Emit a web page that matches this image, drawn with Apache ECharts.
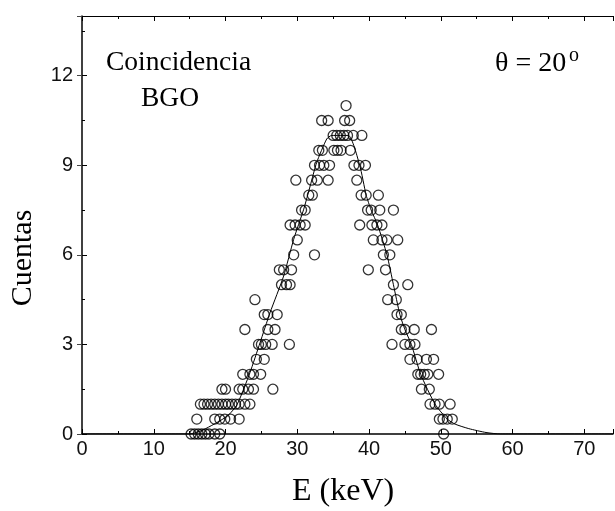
<!DOCTYPE html>
<html>
<head>
<meta charset="utf-8">
<script src="https://cdn.jsdelivr.net/npm/echarts@6/dist/echarts.min.js"></script>
<style>
html,body{margin:0;padding:0;background:#fff;}
#c{width:615px;height:511px;}
</style>
</head>
<body>
<div id="c"></div>
<script>
// ---- data ----
const xTicks = [0, 10, 20, 30, 40, 50, 60, 70];
const yTicks = [0, 3, 6, 9, 12];

// measured counts: each level with the energies (keV) of the points at that level
const countLevels = [11, 10.5, 10, 9.5, 9, 8.5, 8, 7.5, 7, 6.5, 6, 5.5, 5, 4.5, 4, 3.5, 3, 2.5, 2, 1.5, 1, 0.5, 0];
const energiesAtLevel = [
  [36.8],
  [33.4, 34.3, 36.6, 37.3],
  [35.0, 35.5, 36.0, 36.5, 37.0, 37.8, 39.0],
  [33.0, 33.5, 35.1, 35.6, 36.1, 37.4],
  [32.4, 33.1, 33.7, 34.5, 37.9, 38.6, 39.5],
  [29.8, 32.0, 32.8, 34.3, 38.3],
  [31.6, 32.1, 38.9, 39.6, 41.3],
  [30.6, 31.1, 39.8, 40.3, 41.5, 43.4],
  [29.0, 29.7, 30.4, 31.1, 38.7, 40.4, 41.1, 41.8],
  [30.0, 40.6, 41.8, 42.5, 44.0],
  [29.5, 32.4, 42.0, 42.9],
  [27.5, 28.1, 29.2, 39.9, 42.3],
  [27.8, 28.5, 29.0, 43.4, 45.4],
  [24.1, 42.6, 43.8],
  [25.4, 25.9, 27.2, 43.9, 44.5],
  [22.7, 25.9, 26.9, 44.5, 45.0, 46.3, 48.7],
  [24.6, 25.0, 25.6, 26.5, 28.9, 43.2, 45.0, 45.7, 46.4],
  [24.3, 25.4, 45.7, 46.7, 48.0, 49.0],
  [22.4, 23.4, 23.9, 24.9, 46.8, 47.2, 47.7, 48.2, 49.7],
  [19.5, 20.0, 21.9, 22.4, 23.2, 23.9, 26.6, 47.3, 48.4],
  [16.5, 17.0, 17.5, 18.0, 18.5, 19.0, 19.5, 20.0, 20.4, 20.9, 21.4, 21.9, 22.7, 23.4, 48.5, 49.2, 49.8, 51.3],
  [16.0, 18.5, 19.2, 19.9, 20.7, 21.9, 49.8, 50.3, 50.9, 51.6],
  [15.2, 15.7, 16.2, 16.7, 17.2, 17.7, 18.5, 19.2, 50.4]
];

// fitted curve, points
const fitE = [0, 15, 16.9, 20.2, 21.6, 23.4, 24.8, 26.2, 28.1, 29.5, 30.9, 31.8, 32.7, 34.1, 34.8, 37.1, 38.7, 39.6, 40.3, 41.2, 42.5, 43.4, 44.3, 45.0, 45.9, 47.2, 49.2, 50.9, 52.0, 53.9, 56.3, 58.3, 74];
const fitCounts = [0, 0, 0.14, 0.59, 0.98, 2.05, 3.05, 4.06, 5.29, 6.52, 7.53, 8.31, 9.09, 9.88, 10.0, 10.0, 9.0, 8.0, 7.5, 7.0, 6.0, 5.0, 4.0, 3.5, 3.0, 2.0, 1.0, 0.5, 0.33, 0.18, 0.05, 0, 0];

// ---- build ----
const scatterData = [];
countLevels.forEach((lv, i) => energiesAtLevel[i].forEach(e => scatterData.push([e, lv])));
const fitData = fitE.map((e, i) => [e, fitCounts[i]]);

const chart = echarts.init(document.getElementById('c'), null, {renderer: 'canvas'});
const tickFont = {fontFamily: '"Liberation Sans", Arial, sans-serif', fontSize: 20, color: '#111'};
const serif = '"Liberation Serif", "Times New Roman", serif';

const option = {
  backgroundColor: '#fff',
  animation: false,
  grid: {left: 82, right: 2, top: 16, bottom: 77, containLabel: false},
  xAxis: [{
    type: 'value', min: 0, max: 74, interval: 10, position: 'bottom',
    axisLine: {show: true, onZero: false, lineStyle: {color: '#000', width: 1.5}},
    axisTick: {show: true, inside: true, length: 5, lineStyle: {color: '#000', width: 1}},
    minorTick: {show: true, splitNumber: 2, length: 3, lineStyle: {color: '#000', width: 1}},
    axisLabel: Object.assign({margin: 5, showMaxLabel: false, formatter: v => xTicks.indexOf(v) >= 0 ? String(v) : ''}, tickFont),
    splitLine: {show: false}
  }, {
    type: 'value', min: 0, max: 74, interval: 10, position: 'top',
    axisLine: {show: true, onZero: false, lineStyle: {color: '#000', width: 1.2}},
    axisTick: {show: true, inside: true, length: 5, lineStyle: {color: '#000', width: 1}},
    minorTick: {show: true, splitNumber: 2, length: 3, lineStyle: {color: '#000', width: 1}},
    axisLabel: {show: false},
    splitLine: {show: false}
  }],
  yAxis: [{
    type: 'value', min: 0, max: 14, interval: 3, position: 'left',
    axisLine: {show: true, onZero: false, lineStyle: {color: '#000', width: 1.5}},
    axisTick: {show: true, inside: true, length: 5, lineStyle: {color: '#000', width: 1}},
    minorTick: {show: true, splitNumber: 2, length: 3, lineStyle: {color: '#000', width: 1}},
    axisLabel: Object.assign({margin: 9, showMaxLabel: false, formatter: v => yTicks.indexOf(v) >= 0 ? String(v) : ''}, tickFont),
    splitLine: {show: false}
  }, {
    type: 'value', min: 0, max: 14, interval: 3, position: 'right',
    axisLine: {show: false},
    axisTick: {show: true, inside: true, length: 5, lineStyle: {color: '#444', width: 1}},
    axisLabel: {show: false},
    splitLine: {show: false}
  }],
  series: [{
    type: 'line', data: fitData, xAxisIndex: 0, yAxisIndex: 0,
    showSymbol: false, symbol: 'none', smooth: 0.2,
    lineStyle: {color: '#000', width: 1}, z: 2
  }, {
    type: 'scatter', data: scatterData, xAxisIndex: 0, yAxisIndex: 0,
    symbol: 'circle', symbolSize: 10,
    itemStyle: {color: 'rgba(255,255,255,0)', borderColor: '#000', borderWidth: 1.3},
    z: 3
  }],
  graphic: [
    {type: 'text', left: 106, top: 49, style: {text: 'Coincidencia', font: '27.5px ' + serif, fill: '#000'}},
    {type: 'text', left: 141, top: 85, style: {text: 'BGO', font: '27.5px ' + serif, fill: '#000'}},
    {type: 'text', left: 495, top: 50, style: {text: 'θ = 20', font: '28px ' + serif, fill: '#000'}},
    {type: 'text', left: 569, top: 46, style: {text: 'o', font: '20px ' + serif, fill: '#000'}},
    {type: 'text', left: 292, top: 476, style: {text: 'E (keV)', font: '32px ' + serif, fill: '#000'}},
    {type: 'text', x: 23, y: 258, rotation: Math.PI / 2,
     style: {text: 'Cuentas', font: '30px ' + serif, fill: '#000', textAlign: 'center', textVerticalAlign: 'middle'}}
  ]
};
chart.setOption(option);
</script>
</body>
</html>
